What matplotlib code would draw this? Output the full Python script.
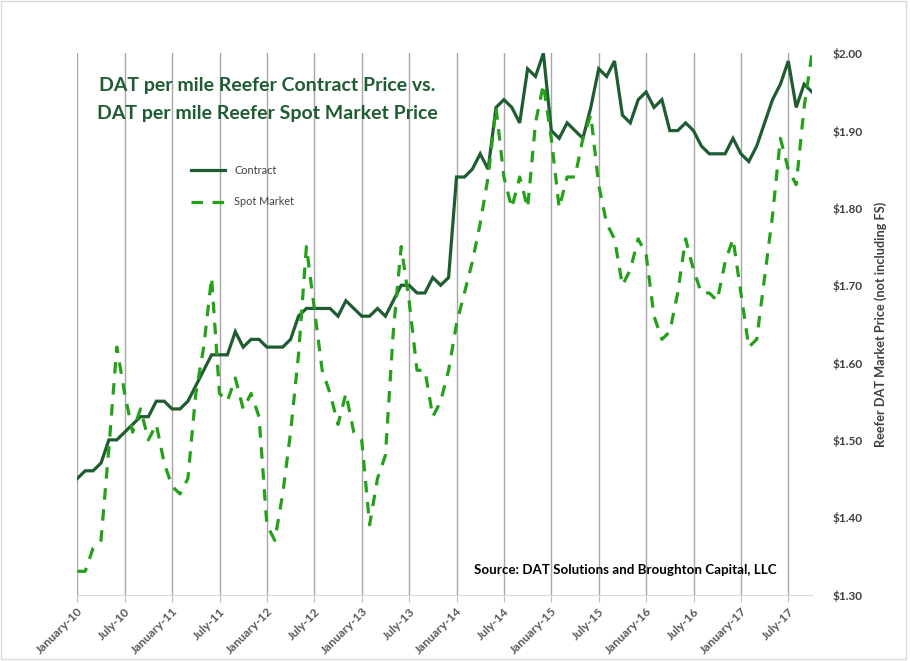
import matplotlib.pyplot as plt
import matplotlib.patches as patches
import numpy as np

plt.rcParams['font.family'] = ['Lato', 'DejaVu Sans']

# monthly prices, January 2010 .. October 2017
contract = [1.45, 1.46, 1.46, 1.47, 1.50, 1.50, 1.51, 1.52, 1.53, 1.53, 1.55, 1.55,
            1.54, 1.54, 1.55, 1.57, 1.59, 1.61, 1.61, 1.61, 1.64, 1.62, 1.63, 1.63,
            1.62, 1.62, 1.62, 1.63, 1.66, 1.67, 1.67, 1.67, 1.67, 1.66, 1.68, 1.67,
            1.66, 1.66, 1.67, 1.66, 1.68, 1.70, 1.70, 1.69, 1.69, 1.71, 1.70, 1.71,
            1.84, 1.84, 1.85, 1.87, 1.85, 1.93, 1.94, 1.93, 1.91, 1.98, 1.97, 2.00,
            1.90, 1.89, 1.91, 1.90, 1.89, 1.93, 1.98, 1.97, 1.99, 1.92, 1.91, 1.94,
            1.95, 1.93, 1.94, 1.90, 1.90, 1.91, 1.90, 1.88, 1.87, 1.87, 1.87, 1.89,
            1.87, 1.86, 1.88, 1.91, 1.94, 1.96, 1.99, 1.93, 1.96, 1.95]

spot = [1.33, 1.33, 1.36, 1.37, 1.49, 1.62, 1.56, 1.51, 1.54, 1.50, 1.52, 1.47,
        1.44, 1.43, 1.45, 1.56, 1.62, 1.71, 1.56, 1.55, 1.58, 1.54, 1.56, 1.53,
        1.39, 1.37, 1.43, 1.51, 1.61, 1.75, 1.67, 1.59, 1.56, 1.52, 1.56, 1.51,
        1.50, 1.39, 1.45, 1.48, 1.64, 1.75, 1.68, 1.59, 1.59, 1.53, 1.55, 1.59,
        1.65, 1.69, 1.73, 1.78, 1.84, 1.93, 1.84, 1.80, 1.84, 1.80, 1.91, 1.96,
        1.89, 1.80, 1.84, 1.84, 1.89, 1.92, 1.83, 1.78, 1.76, 1.70, 1.72, 1.76,
        1.74, 1.66, 1.63, 1.64, 1.69, 1.76, 1.72, 1.69, 1.69, 1.68, 1.73, 1.76,
        1.69, 1.62, 1.63, 1.71, 1.79, 1.89, 1.85, 1.83, 1.93, 2.00]

tick_labels = ["January-10", "July-10", "January-11", "July-11", "January-12",
               "July-12", "January-13", "July-13", "January-14", "July-14",
               "January-15", "July-15", "January-16", "July-16", "January-17",
               "July-17"]
y_ticks = [1.30, 1.40, 1.50, 1.60, 1.70, 1.80, 1.90, 2.00]

contract_colour = "#1e5c32"
spot_colour = "#24a01a"
W, H = 910, 661

fig = plt.figure(figsize=(W / 100, H / 100), dpi=100)
ax = fig.add_axes([77.3 / W, 1 - 594.5 / H, 734.7 / W, 541.2 / H])

x = np.arange(len(contract))
ax.plot(x, contract, color=contract_colour, lw=2.3, label="Contract",
        solid_joinstyle='miter', zorder=3)
ax.plot(np.arange(len(spot)), spot, color=spot_colour, lw=2.3,
        linestyle=(0, (3.6, 3.0)), label="Spot Market", zorder=3)

ticks = np.arange(0, 6 * len(tick_labels), 6)
ax.set_xticks(ticks)
ax.set_xticklabels(tick_labels, rotation=45, ha='right', va='top',
                   rotation_mode='anchor', fontsize=8.7, fontweight='bold',
                   color='#595959')
ax.set_xlim(0, len(contract) - 1)
ax.grid(axis='x', color='#a6a6a6', lw=1.0)
ax.tick_params(axis='x', length=5, color='#bfbfbf', pad=3)

ax.yaxis.tick_right()
ax.yaxis.set_label_position('right')
ax.set_ylim(1.30, 2.00)
ax.set_yticks(y_ticks)
ax.set_yticklabels(["${:.2f}".format(v) for v in y_ticks], fontsize=8.5,
                   fontweight='bold', color='#404040')
ax.tick_params(axis='y', length=0, pad=15)
ax.set_ylabel("Reefer DAT Market Price (not including FS)", fontsize=9.2,
              fontweight='bold', color='#404040', labelpad=8)

for s in ['top', 'left', 'right']:
    ax.spines[s].set_visible(False)
ax.spines['bottom'].set_color('#d9d9d9')

fig.text(267 / W, 1 - 86 / H, "DAT per mile Reefer Contract Price vs.",
         ha='center', va='center', fontsize=14, fontweight='bold',
         color=contract_colour)
fig.text(267 / W, 1 - 113 / H, "DAT per mile Reefer Spot Market Price",
         ha='center', va='center', fontsize=14, fontweight='bold',
         color=contract_colour)

ax.legend(loc='upper left', bbox_to_anchor=(181 / W, 1 - 155 / H),
          bbox_transform=fig.transFigure, frameon=False, fontsize=7.8,
          handlelength=3.2, labelspacing=1.9, labelcolor='#404040')

fig.text(777 / W, 1 - 570 / H, "Source: DAT Solutions and Broughton Capital, LLC",
         ha='right', va='center', fontsize=9.6, fontweight='bold', color='black')

fig.add_artist(patches.Rectangle((0.5 / W, 2 / H), 905 / W, (H - 3) / H,
                                 transform=fig.transFigure, fill=False,
                                 edgecolor='#d9d9d9', lw=1))

fig.savefig("out.png", dpi=100)
